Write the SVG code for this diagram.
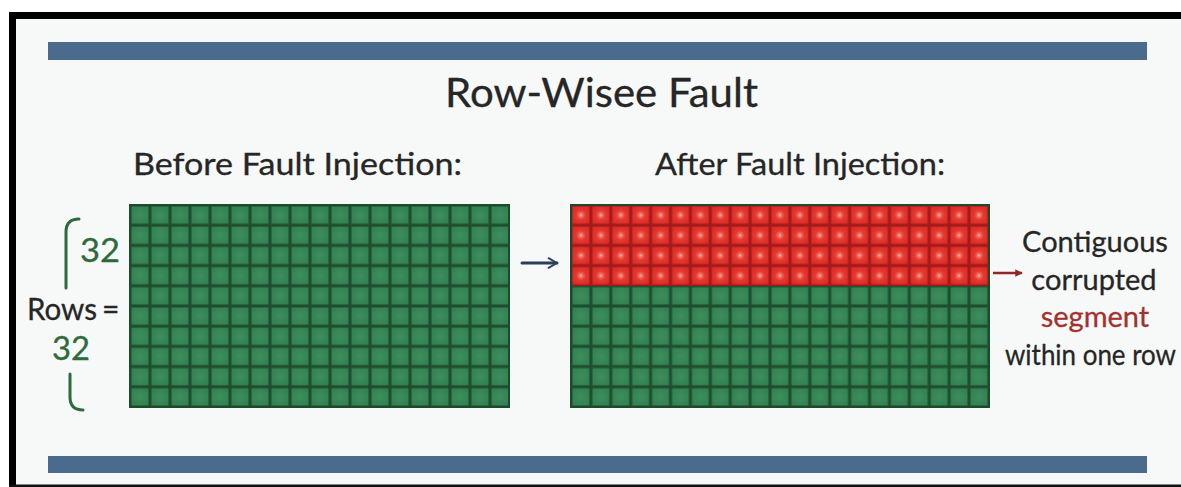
<svg xmlns="http://www.w3.org/2000/svg" width="1181" height="487" viewBox="0 0 1181 487">
  <style>
    .txt { font-family: Lato, "Open Sans", "Liberation Sans", sans-serif; fill: #262626; stroke: #262626; stroke-width: 0.3; }
    .title { font-size: 40px; }
    .head { font-size: 30px; }
    .num { font-size: 33px; fill: #2e6a3d; stroke: #2e6a3d; }
    .note { font-size: 29px; }
    .hot { fill: #a3322e; stroke: #a3322e; }
    .bar { fill: #4a6a8e; }
    .bracket { fill: none; stroke: #2e6a3d; stroke-width: 3; stroke-linecap: round; }
    .gridEdge { fill: none; stroke: #1c4a2c; stroke-width: 2; }
  </style>
  <defs>
    <radialGradient id="greenCell" cx="0.5" cy="0.5" r="0.65">
      <stop offset="0" stop-color="#3d8d5e"/>
      <stop offset="1" stop-color="#32804f"/>
    </radialGradient>
    <radialGradient id="redCell" cx="0.5" cy="0.5" r="0.6">
      <stop offset="0" stop-color="#fbd0c8"/>
      <stop offset="0.15" stop-color="#f27466"/>
      <stop offset="0.45" stop-color="#e6382f"/>
      <stop offset="1" stop-color="#da2c27"/>
    </radialGradient>
    <pattern id="greenTile" patternUnits="userSpaceOnUse" x="130" y="205" width="20" height="20.2">
      <rect width="20" height="20.2" fill="#1f4d2f"/>
      <rect x="1.5" y="1.5" width="17" height="17.2" fill="url(#greenCell)"/>
    </pattern>
    <pattern id="greenTileR" patternUnits="userSpaceOnUse" x="571" y="205" width="19.9" height="20.2">
      <rect width="19.9" height="20.2" fill="#1f4d2f"/>
      <rect x="1.5" y="1.5" width="16.9" height="17.2" fill="url(#greenCell)"/>
    </pattern>
    <pattern id="redTile" patternUnits="userSpaceOnUse" x="571" y="205" width="19.9" height="20.2">
      <rect width="19.9" height="20.2" fill="#a21a1a"/>
      <rect x="1.5" y="1.5" width="16.9" height="17.2" fill="url(#redCell)"/>
    </pattern>
    <marker id="navyHead" viewBox="0 0 10 10" refX="8" refY="5" markerWidth="4" markerHeight="4" orient="auto" markerUnits="strokeWidth">
      <path d="M1,1 L8,5 L1,9" fill="none" stroke="#2c3e58" stroke-width="1.6" stroke-linecap="round" stroke-linejoin="round"/>
    </marker>
    <marker id="redHead" viewBox="0 0 10 10" refX="9" refY="5" markerWidth="3" markerHeight="3" orient="auto" markerUnits="strokeWidth">
      <path d="M0,0 L10,5 L0,10 Z" fill="#8c2a2a"/>
    </marker>
  </defs>

  <!-- page and frame -->
  <g id="frame">
    <rect x="0" y="0" width="1181" height="487" fill="#ffffff"/>
    <rect x="16" y="19" width="1165" height="466" fill="#f7f8f8"/>
    <rect x="9" y="12" width="1172" height="7" fill="#000"/>
    <rect x="9" y="12" width="7" height="475" fill="#000"/>
    <rect x="9" y="484.5" width="1172" height="2.5" fill="#111"/>
    <rect class="bar" x="48" y="42" width="1099" height="18"/>
    <rect class="bar" x="48" y="456" width="1099" height="17"/>
  </g>

  <g id="title">
    <text class="txt title" x="601.5" y="107" text-anchor="middle" textLength="313" lengthAdjust="spacingAndGlyphs">Row-Wisee Fault</text>
  </g>

  <!-- original memory matrix -->
  <g id="before">
    <text class="txt head" x="133" y="175" textLength="329" lengthAdjust="spacingAndGlyphs">Before Fault Injection:</text>
    <rect x="130" y="205" width="379" height="202" fill="url(#greenTile)"/>
    <rect class="gridEdge" x="130" y="205" width="379" height="202"/>
  </g>

  <!-- matrix with four faulty rows -->
  <g id="after">
    <text class="txt head" x="655" y="175" textLength="290" lengthAdjust="spacingAndGlyphs">After Fault Injection:</text>
    <rect x="571" y="205" width="418" height="81" fill="url(#redTile)"/>
    <rect x="571" y="286" width="418" height="121" fill="url(#greenTileR)"/>
    <rect class="gridEdge" x="571" y="205" width="418" height="202"/>
  </g>

  <!-- row count annotation -->
  <g id="rows-label">
    <path class="bracket" d="M79,219 Q66,219 66,232 L66,288"/>
    <text class="txt num" x="80" y="262" textLength="40" lengthAdjust="spacingAndGlyphs">32</text>
    <text class="txt head" x="27" y="320" textLength="70" lengthAdjust="spacingAndGlyphs">Rows</text>
    <text class="txt" x="102" y="320" font-size="30">=</text>
    <text class="txt num" x="52" y="360" textLength="38" lengthAdjust="spacingAndGlyphs">32</text>
    <path class="bracket" d="M70,374 L70,397 Q70,410 83,410"/>
  </g>

  <g id="fault-note">
    <text class="txt note" text-anchor="middle" x="1095" y="252">Contiguous</text>
    <text class="txt note" text-anchor="middle" x="1094" y="290">corrupted</text>
    <text class="txt note hot" text-anchor="middle" x="1095" y="327">segment</text>
    <text class="txt note" x="1005" y="365" textLength="171" lengthAdjust="spacingAndGlyphs">within one row</text>
  </g>

  <g id="connectors">
    <line x1="522" y1="263" x2="557" y2="263" stroke="#2c3e58" stroke-width="3" stroke-linecap="round" marker-end="url(#navyHead)"/>
    <line x1="993" y1="273" x2="1022" y2="273" stroke="#8c2a2a" stroke-width="2.5" marker-end="url(#redHead)"/>
  </g>
</svg>
